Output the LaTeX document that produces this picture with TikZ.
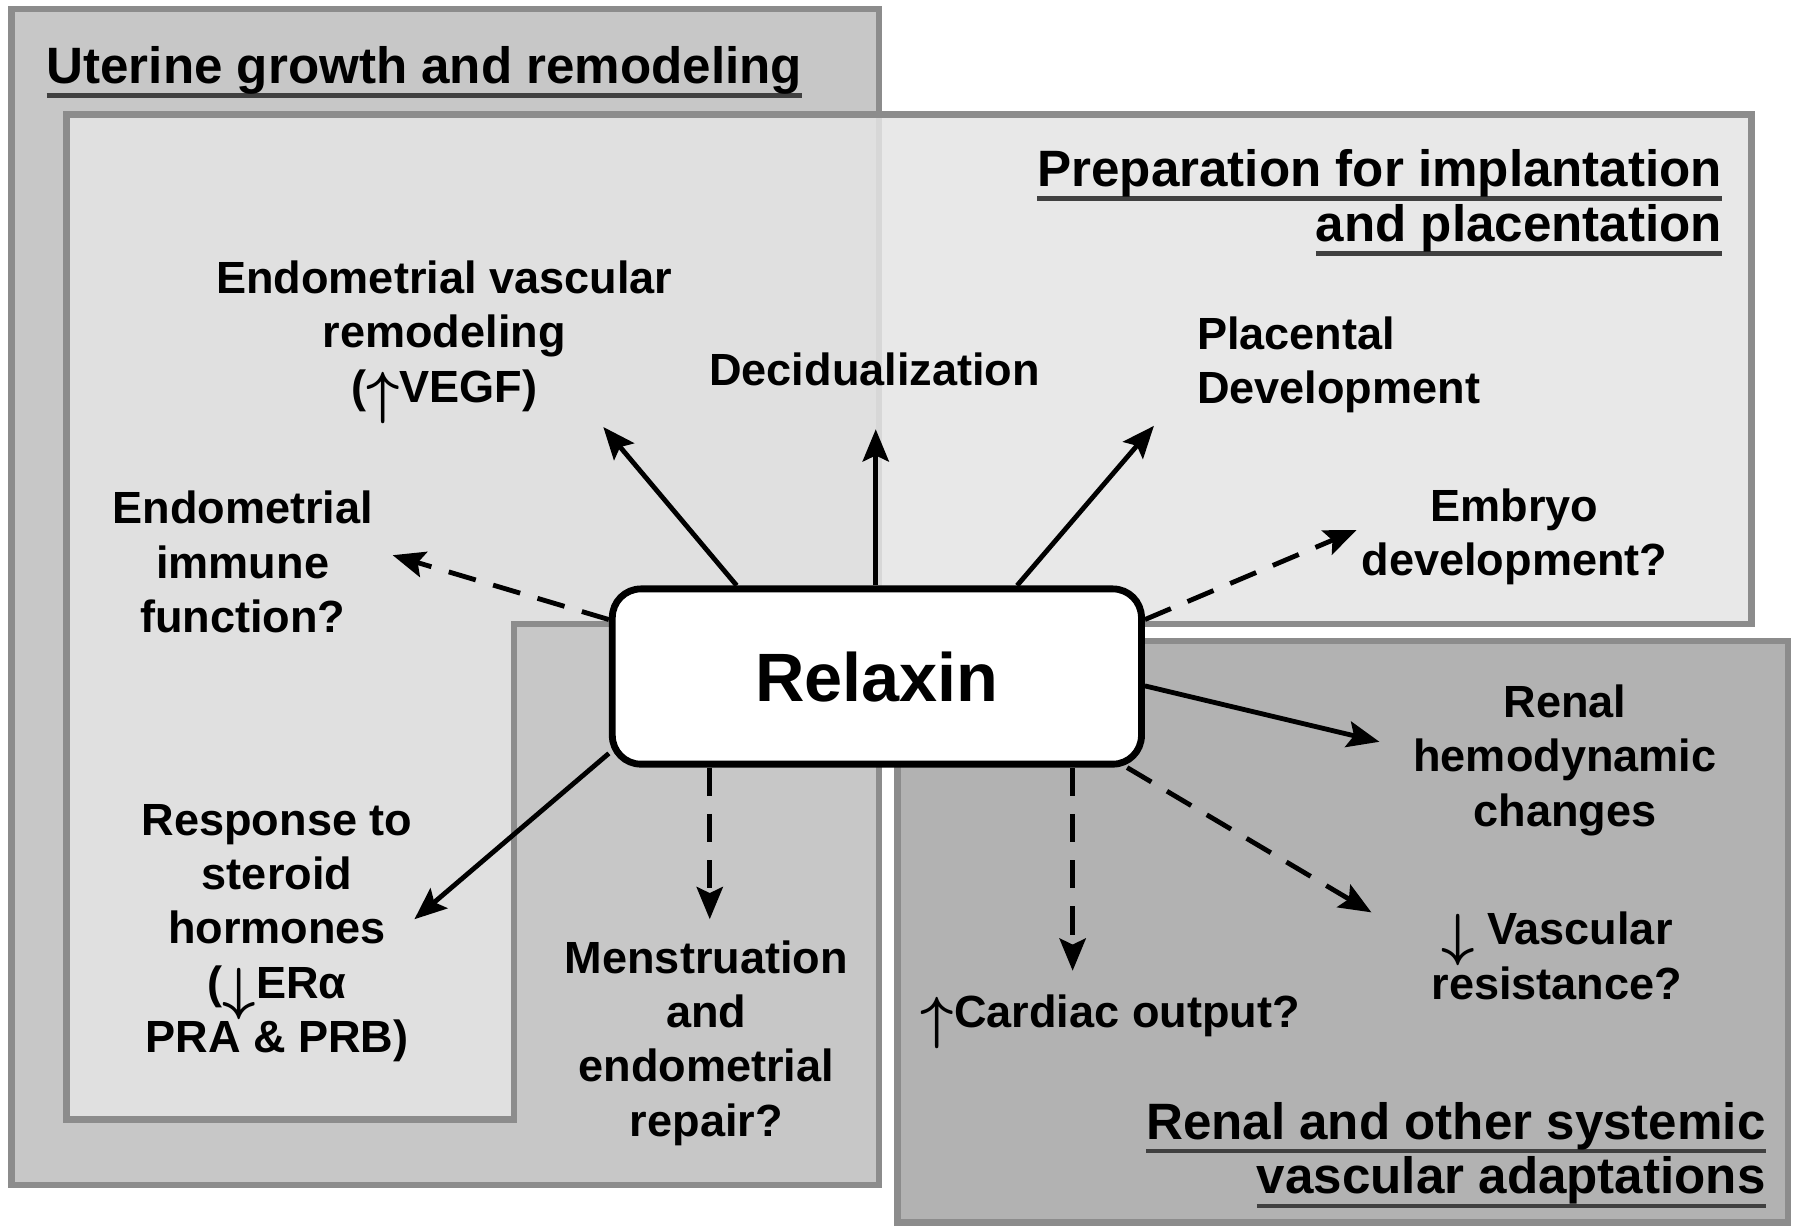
\documentclass[tikz,border=0pt]{standalone}
\usepackage{fontspec}
\setmainfont{Liberation Sans}
\usetikzlibrary{arrows.meta}

\definecolor{uterfill}{gray}{0.78}
\definecolor{prepfill}{gray}{0.90}
\definecolor{renfill}{gray}{0.70}
\definecolor{edgegray}{gray}{0.55}

\newcommand\undl[1]{\setbox0=\hbox{#1}\rlap{\color{black!75}\rule[-3.5pt]{\wd0}{1.1pt}}\box0}
\newcommand\uparr{\raisebox{-2.5pt}{\fontsize{15}{15}\selectfont\boldmath$\uparrow$}}
\newcommand\dnarr{\raisebox{-2.5pt}{\fontsize{15}{15}\selectfont\boldmath$\downarrow$}}

\begin{document}
\begin{tikzpicture}[x=0.01cm,y=-0.01cm,
  box/.style={draw=edgegray,line width=1.6pt},
  lbl/.style={font=\fontsize{11.2}{13.5}\selectfont\bfseries,align=center,inner sep=0pt},
  ttl/.style={font=\fontsize{12.7}{13.6}\selectfont\bfseries,inner sep=0pt},
  sol/.style={line width=1.2pt,-{Stealth[length=8pt,width=6.5pt,inset=1.5pt]}},
  dsh/.style={sol,dash pattern=on 7pt off 4.5pt}]
\useasboundingbox (0,0) rectangle (1568,1071);
\fill[white] (0,0) rectangle (1568,1071);

% boxes
\draw[box,fill=uterfill] (10,8) rectangle (768,1035);
\draw[box,fill=prepfill,fill opacity=0.85]
  (58,100) -- (1530,100) -- (1530,545) -- (449,545) -- (449,978) -- (58,978) -- cycle;
\draw[box,fill=renfill] (784,560) rectangle (1562,1068);

% titles
\node[ttl,anchor=west] (uter-t) at (40,63) {\undl{Uterine growth and remodeling}};
\node[ttl,anchor=east,align=right] (prep-t) at (1505,177) {\undl{Preparation for implantation}\\\undl{and placentation}};
\node[ttl,anchor=east,align=right] (ren-t) at (1543,1009) {\undl{Renal and other systemic}\\\undl{vascular adaptations}};

% relaxin
\node[draw,fill=white,line width=1.7pt,rounded corners=0.25cm,minimum width=4.62cm,minimum height=1.53cm,
  font=\fontsize{17}{20}\selectfont\bfseries] (rel) at (766,591) {Relaxin};

% effects
\node[lbl] (evr) at (388,299) {Endometrial vascular\\remodeling\\(\uparr VEGF)};
\node[lbl] (dec) at (764,323) {Decidualization};
\node[lbl,anchor=west,align=left] (pla) at (1045,319) {Placental\\Development};
\node[lbl] (imm) at (212,491) {Endometrial\\immune\\function?};
\node[lbl] (emb) at (1323,469) {Embryo\\development?};
\node[lbl] (ren) at (1367,664) {Renal\\hemodynamic\\changes};
\node[lbl] (vas) at (1360,835) {\dnarr\ Vascular\\resistance?};
\node[lbl] (car) at (970,893) {\uparr Cardiac output?};
\node[lbl] (men) at (617,911) {Menstruation\\and\\endometrial\\repair?};
\node[lbl] (ste) at (242,815) {Response to\\steroid\\hormones\\(\dnarr ERα\\PRA \& PRB)};

\coordinate (evr-tip) at (527,373);
\coordinate (dec-tip) at (765,375);
\coordinate (pla-tip) at (1008,372);
\coordinate (imm-tip) at (343,485);
\coordinate (emb-tip) at (1185,463);
\coordinate (ren-tip) at (1205,648);
\coordinate (vas-tip) at (1198,797);
\coordinate (car-tip) at (937,848);
\coordinate (men-tip) at (620,803);
\coordinate (ste-tip) at (362,803);

\draw[sol] (rel.147) -- (evr-tip);
\draw[sol] (rel.north -| dec-tip) -- (dec-tip);
\draw[sol] (rel.33) -- (pla-tip);
\draw[dsh] (rel.168) -- (imm-tip);
\draw[dsh] (rel.12) -- (emb-tip);
\draw[sol] (rel.358.5) -- (ren-tip);
\draw[dsh] (rel.340.6) -- (vas-tip);
\draw[dsh] (rel.south -| car-tip) -- (car-tip);
\draw[dsh] (rel.south -| men-tip) -- (men-tip);
\draw[sol] (rel.196.1) -- (ste-tip);
\end{tikzpicture}
\end{document}
